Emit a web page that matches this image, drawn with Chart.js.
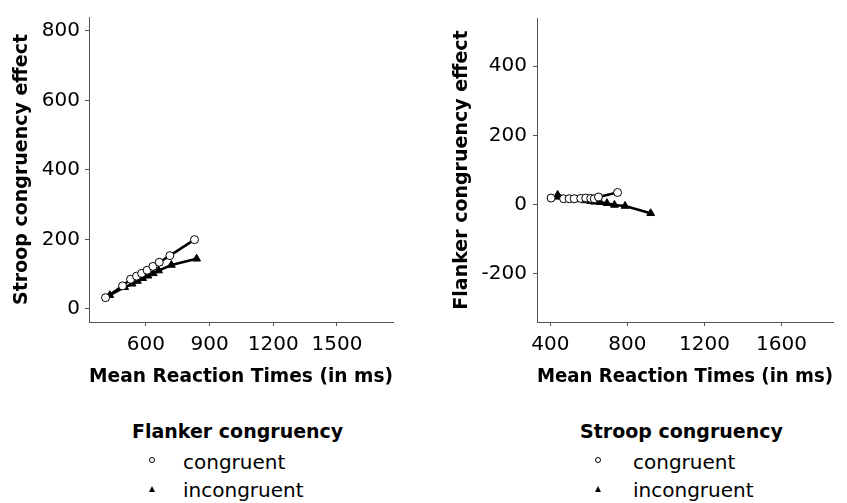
<!DOCTYPE html>
<html>
<head>
<meta charset="utf-8">
<script src="https://cdn.jsdelivr.net/npm/chart.js@4"></script>
<style>
  body { margin: 0; background: #fff; font-family: "DejaVu Sans", sans-serif; }
  #page { position: relative; width: 847px; height: 503px; overflow: hidden; }
  .panel { position: absolute; top: 0; height: 400px; }
  .leg { position: absolute; font-size: 20px; line-height: 20px; color: #000; white-space: nowrap; }
  .leg.head { font-size: 19px; line-height: 19px; font-weight: bold; }
  .sym { position: absolute; }
</style>
</head>
<body>
<div id="page">
  <div class="panel" style="left:0;width:420px"><canvas id="stroopChart" width="420" height="400"></canvas></div>
  <div class="panel" style="left:420px;width:427px"><canvas id="flankerChart" width="427" height="400"></canvas></div>

  <div class="leg head" style="left:132px;top:422px">Flanker congruency</div>
  <svg class="sym" style="left:148px;top:456px" width="8" height="8"><circle cx="4" cy="4" r="2.5" fill="#fff" stroke="#000" stroke-width="1"/></svg>
  <div class="leg" style="left:183px;top:452px">congruent</div>
  <svg class="sym" style="left:148px;top:485px" width="8" height="8"><polygon points="4,1 7,7 1,7" fill="#000"/></svg>
  <div class="leg" style="left:183px;top:480px">incongruent</div>

  <div class="leg head" style="left:580px;top:422px">Stroop congruency</div>
  <svg class="sym" style="left:594px;top:456px" width="8" height="8"><circle cx="4" cy="4" r="2.5" fill="#fff" stroke="#000" stroke-width="1"/></svg>
  <div class="leg" style="left:633px;top:452px">congruent</div>
  <svg class="sym" style="left:594px;top:485px" width="8" height="8"><polygon points="4,1 7,7 1,7" fill="#000"/></svg>
  <div class="leg" style="left:633px;top:480px">incongruent</div>
</div>

<script>
// Left panel: Stroop effect vs mean RT, split by flanker congruency
const stroopCongRT  = [410, 490, 528, 556, 580, 606, 633, 663, 713, 829];
const stroopCongEff = [32, 66, 85, 94, 102, 111, 122, 134, 153, 199];
const stroopIncRT   = [430, 500, 535, 560, 585, 610, 635, 660, 720, 839];
const stroopIncEff  = [39, 62, 72, 80, 88, 95, 102, 110, 126, 144];

// Right panel: Flanker effect vs mean RT, split by stroop congruency
const flankerCongRT  = [404, 469, 498, 524, 558, 584, 610, 628, 650, 749];
const flankerCongEff = [19, 17, 17, 17, 18, 19, 18, 17, 22, 35];
const flankerIncRT   = [438, 535, 580, 610, 630, 659, 694, 733, 788, 921];
const flankerIncEff  = [28, 15, 12, 10, 8, 7, 4, -1, -4, -25];

// tick labels
const stroopXTicks = [600, 900, 1200, 1500];
const stroopYTicks = [0, 200, 400, 600, 800];
const flankerXTicks = [400, 800, 1200, 1600];
const flankerYTicks = [-200, 0, 200, 400];

const FONT = '"DejaVu Sans", sans-serif';
const AXIS = '#555';

function toPoints(xs, ys) {
  return xs.map((x, i) => ({ x: x, y: ys[i] }));
}

function series(label, xs, ys, style) {
  const open = style === 'circle';
  return {
    label: label,
    data: toPoints(xs, ys),
    showLine: true,
    borderColor: '#000',
    borderWidth: 2.5,
    pointStyle: open ? 'circle' : 'triangle',
    pointRadius: open ? 4 : 4.5,
    pointBackgroundColor: open ? '#fff' : '#000',
    pointBorderColor: '#000',
    pointBorderWidth: 1,
    order: open ? 0 : 1
  };
}

function createPanel(canvasId, datasets, o) {
  new Chart(document.getElementById(canvasId), {
    type: 'scatter',
    data: { datasets: datasets },
    options: {
      responsive: false,
      animation: false,
      layout: { padding: { top: 12, right: o.padRight, bottom: 0, left: 0 } },
      plugins: { legend: { display: false }, tooltip: { enabled: false } },
      scales: {
        x: {
          type: 'linear',
          min: o.xMin, max: o.xMax,
          afterBuildTicks: s => { s.ticks = o.xTicks.map(v => ({ value: v })); },
          afterFit: s => { s.height = 78; },
          grid: { drawOnChartArea: false, drawTicks: true, tickLength: 4, color: AXIS },
          border: { display: true, color: AXIS, width: 1 },
          ticks: { color: '#000', padding: 7, maxRotation: 0, autoSkip: false,
                   font: { family: FONT, size: 20 }, callback: v => String(v) },
          title: { display: true, text: 'Mean Reaction Times (in ms)', color: '#000',
                   font: { family: FONT, size: 19, weight: 'bold' }, padding: { top: 0, bottom: 12 } }
        },
        y: {
          type: 'linear',
          min: o.yMin, max: o.yMax,
          afterBuildTicks: s => { s.ticks = o.yTicks.map(v => ({ value: v })); },
          afterFit: s => { s.width = o.yWidth; },
          grid: { drawOnChartArea: false, drawTicks: true, tickLength: 4, color: AXIS },
          border: { display: true, color: AXIS, width: 1 },
          ticks: { color: '#000', padding: o.yPad, font: { family: FONT, size: 20 }, callback: v => String(v) },
          title: { display: true, text: o.yTitle, color: '#000',
                   font: { family: FONT, size: 19, weight: 'bold' }, padding: { top: o.yTitlePad, bottom: 0 } }
        }
      }
    }
  });
}

createPanel('stroopChart', [
  series('congruent', stroopCongRT, stroopCongEff, 'circle'),
  series('incongruent', stroopIncRT, stroopIncEff, 'triangle')
], {
  xMin: 332, xMax: 1764, yMin: -38, yMax: 840,
  xTicks: stroopXTicks, yTicks: stroopYTicks,
  yTitle: 'Stroop congruency effect', yWidth: 89, yPad: 5, yTitlePad: 10.6, padRight: 27
});

createPanel('flankerChart', [
  series('congruent', flankerCongRT, flankerCongEff, 'circle'),
  series('incongruent', flankerIncRT, flankerIncEff, 'triangle')
], {
  xMin: 331, xMax: 1867, yMin: -339, yMax: 539,
  xTicks: flankerXTicks, yTicks: flankerYTicks,
  yTitle: 'Flanker congruency effect', yWidth: 117, yPad: 6, yTitlePad: 30.6, padRight: 14
});
</script>
</body>
</html>
